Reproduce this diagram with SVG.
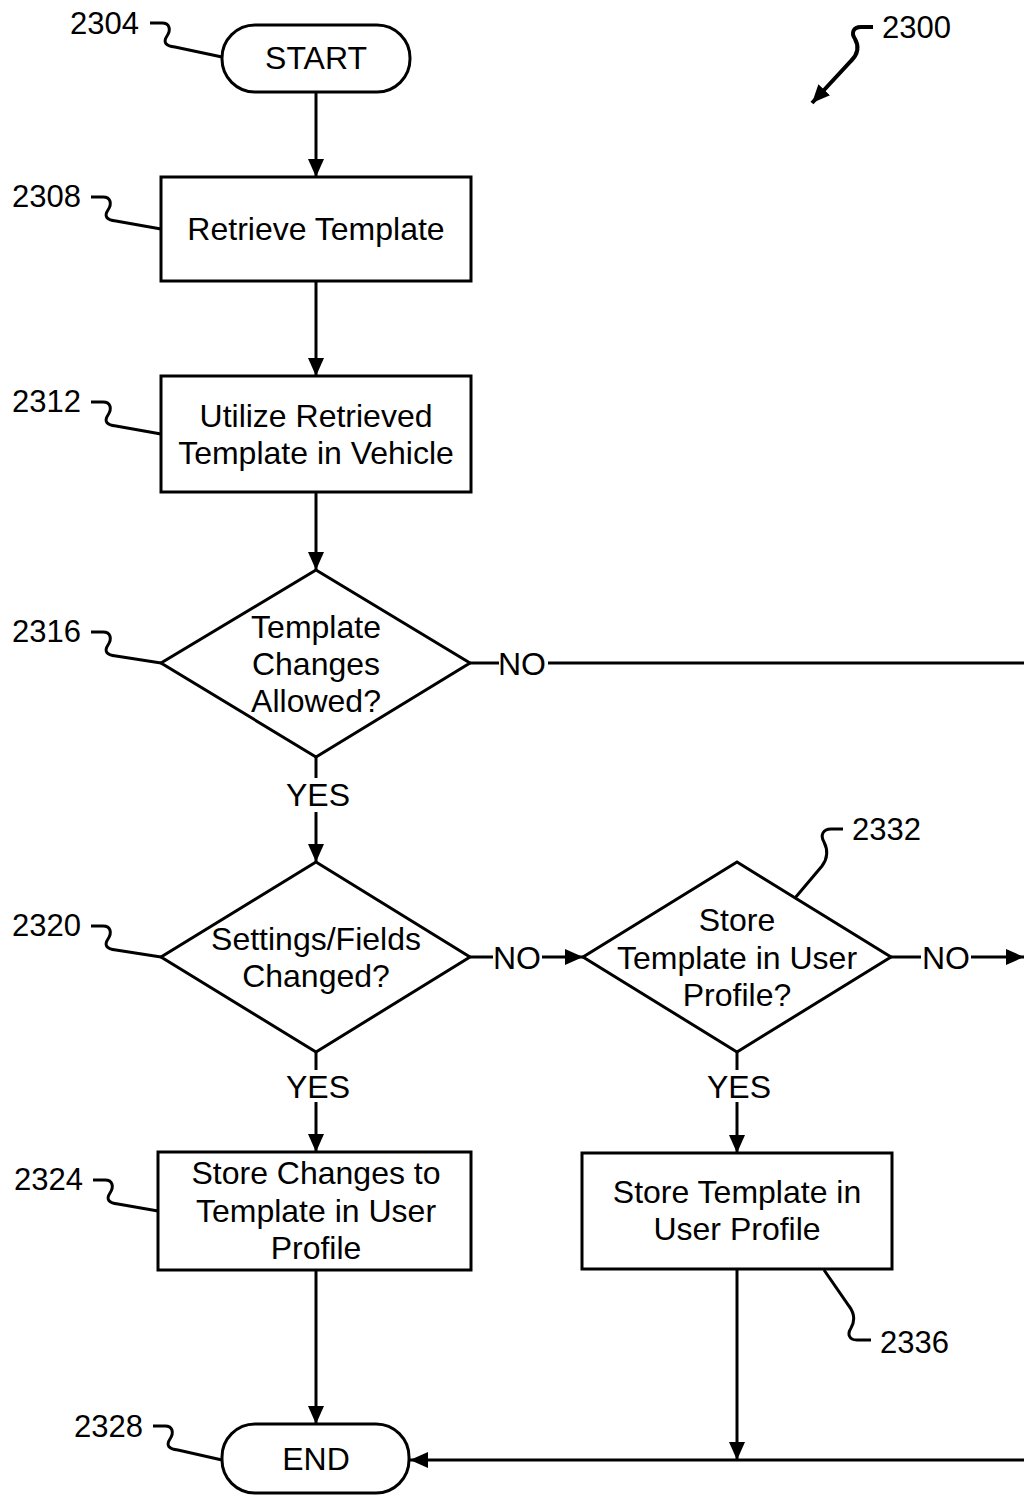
<svg xmlns="http://www.w3.org/2000/svg" width="1024" height="1495" viewBox="0 0 1024 1495">
<style>
.s{fill:#fff;stroke:#000;stroke-width:3}
.c{fill:none;stroke:#000;stroke-width:3}
.t{font-family:"Liberation Sans",Arial,sans-serif;font-size:32px;fill:#000;text-anchor:middle}
.l{font-family:"Liberation Sans",Arial,sans-serif;font-size:31px;fill:#000}
</style>
<defs>
<marker id="a" markerWidth="18" markerHeight="16" refX="18" refY="8" orient="auto" markerUnits="userSpaceOnUse">
<path d="M0,0 L18,8 L0,16 Z" fill="#000"/>
</marker>
</defs>
<rect width="1024" height="1495" fill="#fff"/>
<g id="connectors">
<line class="c" x1="316" y1="92" x2="316" y2="177" marker-end="url(#a)"/>
<line class="c" x1="316" y1="281" x2="316" y2="376" marker-end="url(#a)"/>
<line class="c" x1="316" y1="492" x2="316" y2="570" marker-end="url(#a)"/>
<line class="c" x1="470" y1="663" x2="499" y2="663"/>
<line class="c" x1="548" y1="663" x2="1024" y2="663"/>
<line class="c" x1="316" y1="757" x2="316" y2="778"/>
<line class="c" x1="316" y1="812" x2="316" y2="862" marker-end="url(#a)"/>
<line class="c" x1="470" y1="957" x2="493" y2="957"/>
<line class="c" x1="542" y1="957" x2="583" y2="957" marker-end="url(#a)"/>
<line class="c" x1="891" y1="957" x2="921" y2="957"/>
<line class="c" x1="971" y1="957" x2="1024" y2="957" marker-end="url(#a)"/>
<line class="c" x1="316" y1="1052" x2="316" y2="1070"/>
<line class="c" x1="316" y1="1102" x2="316" y2="1152" marker-end="url(#a)"/>
<line class="c" x1="737" y1="1052" x2="737" y2="1070"/>
<line class="c" x1="737" y1="1102" x2="737" y2="1153" marker-end="url(#a)"/>
<line class="c" x1="316" y1="1270" x2="316" y2="1424" marker-end="url(#a)"/>
<line class="c" x1="737" y1="1269" x2="737" y2="1460" marker-end="url(#a)"/>
<line class="c" x1="1024" y1="1460" x2="410" y2="1460" marker-end="url(#a)"/>
<text class="t" x="522" y="675">NO</text>
<text class="t" x="318" y="806">YES</text>
<text class="t" x="517" y="969">NO</text>
<text class="t" x="946" y="969">NO</text>
<text class="t" x="318" y="1098">YES</text>
<text class="t" x="739" y="1098">YES</text>
</g>
<g id="n2304">
<rect class="s" x="222" y="25" width="188" height="67" rx="33"/>
<text class="t" x="316" y="69">START</text>
<text class="l" x="70" y="34">2304</text>
<path class="c" d="M150,23 h12 c8,0 9,7 5,13 c-4,6 -2,10 8,11 L222,57"/>
</g>
<g id="n2308">
<rect class="s" x="161" y="177" width="310" height="104"/>
<text class="t" x="316" y="240">Retrieve Template</text>
<text class="l" x="12" y="207">2308</text>
<path class="c" d="M91,197 h12 c8,0 9,7 5,13 c-4,6 -2,10 8,11 L161,229"/>
</g>
<g id="n2312">
<rect class="s" x="161" y="376" width="310" height="116"/>
<text class="t" x="316" y="427">Utilize Retrieved</text>
<text class="t" x="316" y="464">Template in Vehicle</text>
<text class="l" x="12" y="412">2312</text>
<path class="c" d="M91,402 h12 c8,0 9,7 5,13 c-4,6 -2,10 8,11 L161,434"/>
</g>
<g id="n2316">
<polygon class="s" points="316,570 470,663 316,757 161,663"/>
<text class="t" x="316" y="638">Template</text>
<text class="t" x="316" y="675">Changes</text>
<text class="t" x="316" y="712">Allowed?</text>
<text class="l" x="12" y="642">2316</text>
<path class="c" d="M91,632 h12 c8,0 9,7 5,13 c-4,6 -2,10 8,11 L161,663"/>
</g>
<g id="n2320">
<polygon class="s" points="316,862 470,957 316,1052 161,957"/>
<text class="t" x="316" y="950">Settings/Fields</text>
<text class="t" x="316" y="987">Changed?</text>
<text class="l" x="12" y="936">2320</text>
<path class="c" d="M91,926 h12 c8,0 9,7 5,13 c-4,6 -2,10 8,11 L161,957"/>
</g>
<g id="n2332">
<polygon class="s" points="737,862 891,957 737,1052 583,957"/>
<text class="t" x="737" y="931">Store</text>
<text class="t" x="737" y="969">Template in User</text>
<text class="t" x="737" y="1006">Profile?</text>
<text class="l" x="852" y="840">2332</text>
<path class="c" d="M843,829 h-12 c-8,0 -11,6 -7,13 c4,8 4,16 -2,24 L795,898"/>
</g>
<g id="n2324">
<rect class="s" x="158" y="1152" width="313" height="118"/>
<text class="t" x="316" y="1184">Store Changes to</text>
<text class="t" x="316" y="1222">Template in User</text>
<text class="t" x="316" y="1259">Profile</text>
<text class="l" x="14" y="1190">2324</text>
<path class="c" d="M93,1180 h12 c8,0 9,7 5,13 c-4,6 -2,10 8,11 L158,1211"/>
</g>
<g id="n2336">
<rect class="s" x="582" y="1153" width="310" height="116"/>
<text class="t" x="737" y="1203">Store Template in</text>
<text class="t" x="737" y="1240">User Profile</text>
<text class="l" x="880" y="1353">2336</text>
<path class="c" d="M871,1340 h-14 c-8,0 -10,-6 -6,-12 c4,-7 4,-14 -2,-22 L824,1270"/>
</g>
<g id="n2328">
<rect class="s" x="222" y="1424" width="187" height="69" rx="33"/>
<text class="t" x="316" y="1470">END</text>
<text class="l" x="74" y="1437">2328</text>
<path class="c" d="M153,1426 h12 c8,0 9,7 5,13 c-4,6 -2,10 8,11 L222,1460"/>
</g>
<g id="n2300">
<text class="l" x="882" y="38">2300</text>
<path d="M873,27 h-12 c-8,0 -10,6 -6,12 c4,7 4,14 -4,22 L812,103" fill="none" stroke="#000" stroke-width="4" marker-end="url(#a)"/>
</g>
</svg>
